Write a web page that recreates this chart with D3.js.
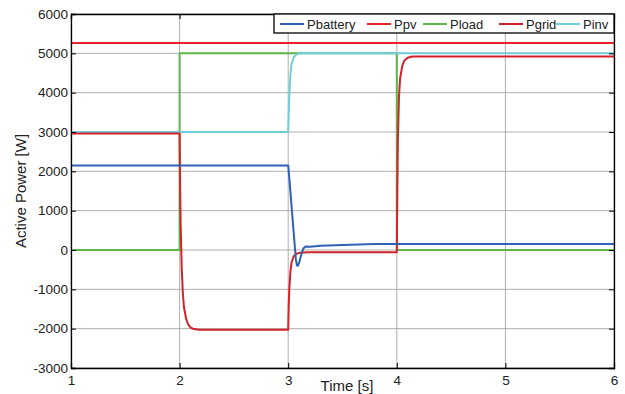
<!DOCTYPE html>
<meta charset="utf-8" />
<style>
  body { margin: 0; background: #fff; }
  svg { font-family: "Liberation Sans", Arial, sans-serif; }
  .grid line { stroke: #9a9a9a; stroke-width: 0.8; }
  .series { fill: none; stroke-width: 2; stroke-linejoin: round; }
</style>
<body>
  <div id="chart"></div>
  <script src="https://cdn.jsdelivr.net/npm/d3@7"></script>
  <script>
    const width = 625;
    const height = 394;
    const margin = { top: 14, right: 11, bottom: 26, left: 71 };

    // time [s], power [W]
    const pbattery = [
      [1, 2150], [3.0, 2150], [3.01, 1830], [3.02, 1500], [3.03, 1150],
      [3.04, 800], [3.05, 460], [3.06, 120], [3.07, -220], [3.08, -390],
      [3.09, -400], [3.1, -330], [3.12, -120], [3.14, 40], [3.16, 90],
      [3.2, 80], [3.3, 110], [3.5, 130], [3.8, 150], [4.0, 155], [6, 155]
    ];
    const ppv = [[1, 5260], [6, 5260]];
    const pload = [[1, 0], [2, 0], [2, 5000], [4, 5000], [4, 0], [6, 0]];
    const pgrid = [
      [1, 2960], [2.0, 2960], [2.005, 1600], [2.01, 600], [2.02, -500],
      [2.03, -1100], [2.04, -1450], [2.06, -1750], [2.08, -1900],
      [2.1, -1970], [2.13, -2010], [2.18, -2030], [3.0, -2030],
      [3.005, -1400], [3.01, -1000], [3.02, -560], [3.03, -330],
      [3.05, -160], [3.08, -90], [3.12, -65], [3.2, -60], [4.0, -60],
      [4.005, 1500], [4.01, 2800], [4.02, 3900], [4.03, 4350],
      [4.05, 4680], [4.07, 4820], [4.1, 4890], [4.14, 4920], [6, 4920]
    ];
    const pinv = [
      [1, 3000], [3.0, 3000], [3.005, 3450], [3.01, 3900], [3.02, 4450],
      [3.03, 4720], [3.05, 4900], [3.08, 4980], [3.12, 5000], [6, 5000]
    ];

    const series = [
      { name: "Pbattery", color: "#2f62b5", data: pbattery },
      { name: "Ppv", color: "#e8242b", data: ppv },
      { name: "Pload", color: "#5cb547", data: pload },
      { name: "Pgrid", color: "#d3222a", data: pgrid },
      { name: "Pinv", color: "#72cddb", data: pinv }
    ];
    const drawOrder = ["Ppv", "Pload", "Pinv", "Pgrid", "Pbattery"];

    const xTicks = [1, 2, 3, 4, 5, 6];
    const yTicks = [-3000, -2000, -1000, 0, 1000, 2000, 3000, 4000, 5000, 6000];

    const svg = d3.select("#chart").append("svg")
      .attr("width", width).attr("height", height);

    const x = d3.scaleLinear().domain([1, 6])
      .range([margin.left, width - margin.right]);
    const y = d3.scaleLinear().domain([-3000, 6000])
      .range([height - margin.bottom, margin.top]);

    // grid
    const grid = svg.append("g").attr("class", "grid");
    grid.selectAll(".gx").data(xTicks).join("line")
      .attr("x1", d => x(d)).attr("x2", d => x(d))
      .attr("y1", y(-3000)).attr("y2", y(6000));
    grid.selectAll(".gy").data(yTicks).join("line")
      .attr("class", "gy")
      .attr("x1", x(1)).attr("x2", x(6))
      .attr("y1", d => y(d)).attr("y2", d => y(d));

    const line = d3.line().x(d => x(d[0])).y(d => y(d[1]));

    drawOrder.forEach(n => {
      const s = series.find(d => d.name === n);
      svg.append("path").attr("class", "series")
        .attr("stroke", s.color).attr("d", line(s.data));
    });

    // axes box (plain hyphen minus, like the original)
    const fmt = d => String(d);
    const xAxis = d3.axisBottom(x).tickValues(xTicks).tickSize(-5).tickPadding(7).tickFormat(fmt);
    const yAxis = d3.axisLeft(y).tickValues(yTicks).tickSize(-5).tickPadding(3).tickFormat(fmt);
    const xTop = d3.axisTop(x).tickValues(xTicks).tickSize(-5).tickFormat("");
    const yRight = d3.axisRight(y).tickValues(yTicks).tickSize(-5).tickFormat("");

    svg.append("g").attr("transform", `translate(0,${y(-3000)})`).call(xAxis);
    svg.append("g").attr("transform", `translate(${x(1)},0)`).call(yAxis);
    svg.append("g").attr("transform", `translate(0,${y(6000)})`).call(xTop);
    svg.append("g").attr("transform", `translate(${x(6)},0)`).call(yRight);
    svg.selectAll(".domain").attr("stroke", "#000").attr("stroke-width", 1.3);
    svg.selectAll(".tick line").attr("stroke", "#000");
    svg.selectAll(".tick text").attr("font-size", 13.5).attr("fill", "#222")
      .attr("font-family", "Liberation Sans, Arial, sans-serif");

    // labels
    svg.append("text").attr("x", 347).attr("y", 391)
      .attr("text-anchor", "middle").attr("font-size", 15).attr("fill", "#222")
      .text("Time [s]");
    svg.append("text")
      .attr("transform", `translate(26,${(y(6000) + y(-3000)) / 2}) rotate(-90)`)
      .attr("text-anchor", "middle").attr("font-size", 15).attr("fill", "#222")
      .text("Active Power [W]");

    // legend
    const legX = [280, 367, 423, 499, 556];
    const lg = svg.append("g");
    lg.append("rect").attr("x", 274).attr("y", y(6000))
      .attr("width", x(6) - 274).attr("height", 19)
      .attr("fill", "#fff").attr("stroke", "#000").attr("stroke-width", 1.3);
    series.forEach((s, i) => {
      const lx = legX[i];
      lg.append("line").attr("x1", lx).attr("x2", lx + 24)
        .attr("y1", y(6000) + 10).attr("y2", y(6000) + 10)
        .attr("stroke", s.color).attr("stroke-width", 2);
      lg.append("text").attr("x", lx + 27).attr("y", y(6000) + 15)
        .attr("font-size", 13).attr("fill", "#222").text(s.name);
    });
  </script>
</body>
